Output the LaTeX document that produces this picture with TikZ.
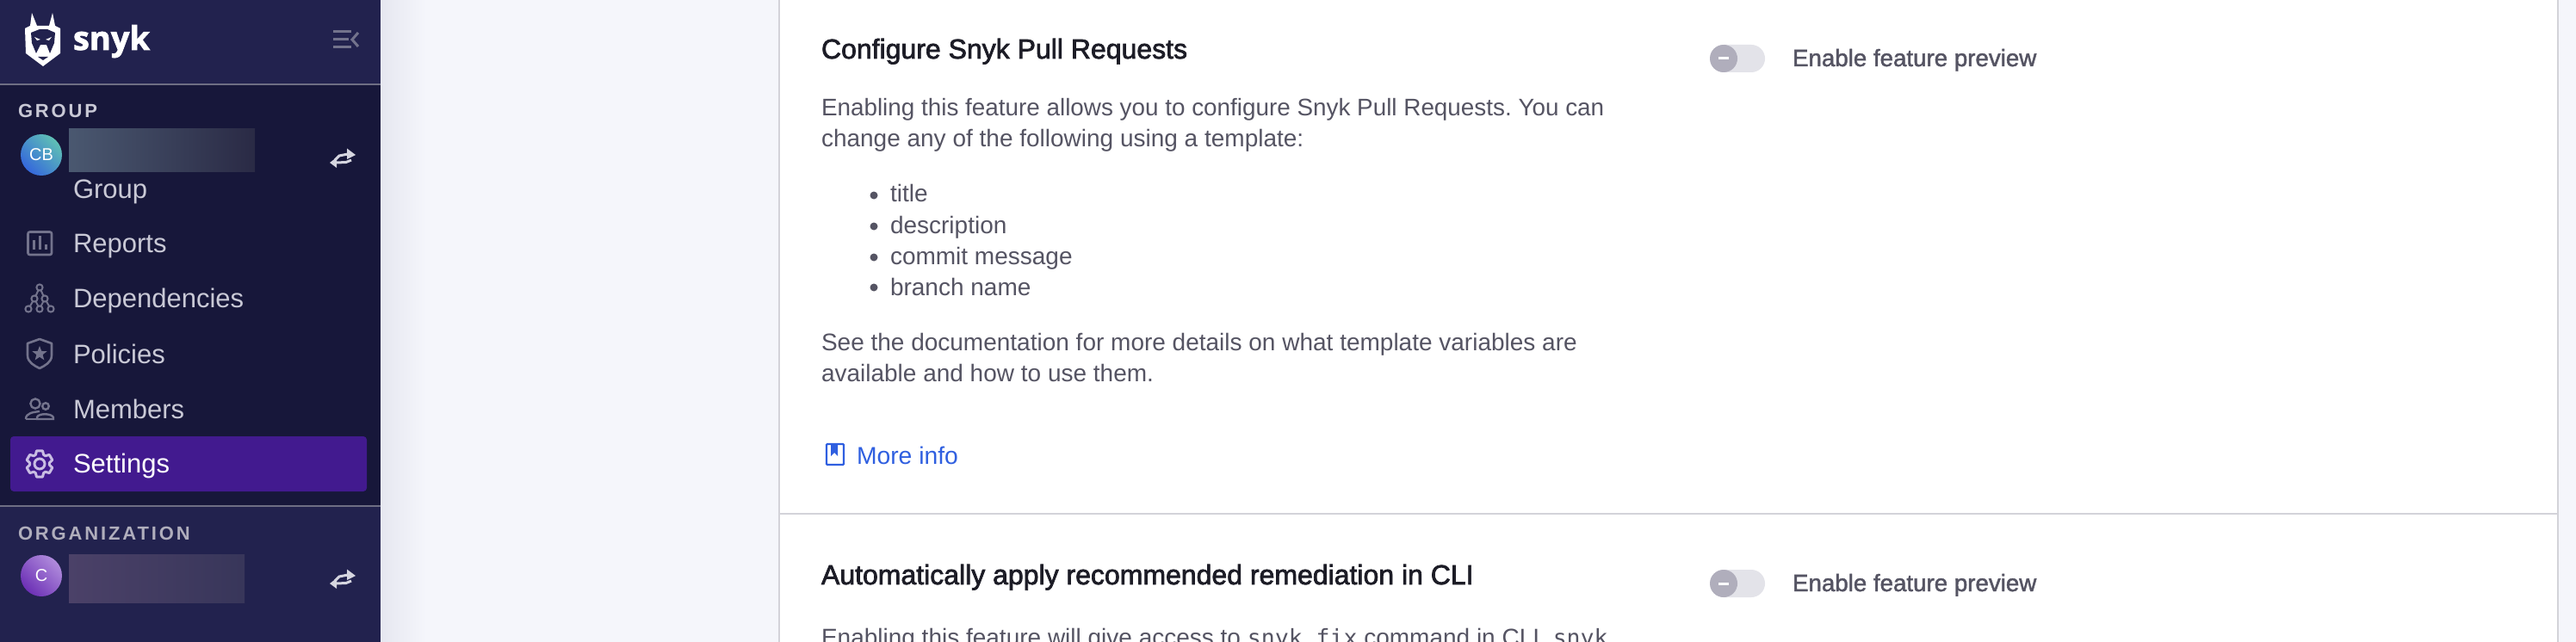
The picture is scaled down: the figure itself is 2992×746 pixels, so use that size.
\documentclass[tikz,border=0pt]{standalone}
\usepackage{fontspec}
\setmainfont{Liberation Sans}
\setmonofont{DejaVu Sans Mono}
\newfontfamily\medfont[FakeBold=2.2]{Liberation Sans}
\newfontfamily\labelfont[FakeBold=1.6]{Liberation Sans}
\newfontfamily\capsfont[LetterSpace=13]{Liberation Sans}
\newfontfamily\logofont[FakeBold=2]{Open Sans}
\definecolor{navytop}{HTML}{22224E}
\definecolor{navymid}{HTML}{17173A}
\definecolor{navyrule}{HTML}{6E6E83}
\definecolor{pagebg}{HTML}{F5F6FB}
\definecolor{stripbg}{HTML}{E6E7F0}
\definecolor{cardline}{HTML}{D3D3D9}
\definecolor{bodytext}{HTML}{555463}
\definecolor{headtext}{HTML}{1C1C26}
\definecolor{linkblue}{HTML}{2F5FE0}
\definecolor{navtext}{HTML}{C9C9D6}
\definecolor{navicon}{HTML}{73738C}
\definecolor{activebg}{HTML}{421A8F}
\definecolor{geartint}{HTML}{C9BDE3}
\definecolor{swapgrey}{HTML}{D6D6E0}
\definecolor{knobgrey}{HTML}{B0AEBC}
\definecolor{trackgrey}{HTML}{E3E3E9}
\definecolor{blurgroupa}{HTML}{4A5870}
\definecolor{blurgroupm}{HTML}{403F54}
\definecolor{blurgroupb}{HTML}{2A2A45}
\definecolor{blurorga}{HTML}{4B4168}
\definecolor{blurorgm}{HTML}{454263}
\definecolor{blurorgb}{HTML}{38365A}
\definecolor{cbstart}{HTML}{5FC0B5}
\definecolor{cbend}{HTML}{3568DC}
\definecolor{cstart}{HTML}{B08BDC}
\definecolor{cend}{HTML}{6C30B5}
\begin{document}
\frenchspacing
\begin{tikzpicture}[
    x=1pt, y=-1pt,
    every node/.style={inner sep=0pt, outer sep=0pt, anchor=base west},
    bodyline/.style={text=bodytext, font=\fontsize{28}{36}\selectfont},
    heading/.style={text=headtext, font=\medfont\fontsize{32}{36}\selectfont},
    navitem/.style={text=navtext, font=\fontsize{31}{36}\selectfont},
    sectionhead/.style={font=\capsfont\bfseries\fontsize{22}{26}\selectfont},
    iconline/.style={draw=navicon, line width=2.6pt, line join=round},
    swapline/.style={draw=swapgrey, line width=3pt},
    previewlabel/.style={text=bodytext, font=\labelfont\fontsize{27.7}{36}\selectfont},
    bullet/.style={circle, fill=bodytext, minimum size=9pt, anchor=center}
]
  \clip (0,0) rectangle (2992,746);
  % Page and card
  \fill[pagebg] (0,0) rectangle (2992,746);
  \shade[left color=stripbg, right color=pagebg] (442,0) rectangle (495,746);
  \fill[white] (906,-5) rectangle (2970,755);
  \draw[cardline, line width=2pt] (905,-5) -- (905,755);
  \draw[cardline, line width=2pt] (2971,-5) -- (2971,755);
  \draw[cardline, line width=2pt] (905,597) -- (2971,597);

  % Sidebar
  \fill[navytop] (0,0) rectangle (442,98);
  \fill[navymid] (0,98) rectangle (442,587);
  \fill[navytop] (0,587) rectangle (442,746);
  \draw[navyrule, line width=2pt] (0,98.5) -- (442,98.5);
  \draw[navyrule, line width=2pt] (0,587.5) -- (442,587.5);

  % Logo
  \fill[white] (37,15) -- (43,30) -- (57,30) -- (61,15) -- (64,30) -- (70,33) -- (70,62)
    -- (50,77) -- (30,62) -- (29,33) -- (35,30) -- cycle;
  \fill[navytop] (36,38) -- (46,34) -- (55,34) -- (64,38) -- (63,50) -- (58,62) -- (54,52)
    -- (47,52) -- (42,62) -- (37,50) -- cycle;
  \fill[white] (40,43) -- (47,46) -- (43,47) -- cycle;
  \fill[white] (60,43) -- (53,46) -- (57,47) -- cycle;
  \fill[navytop] (44,66) -- (56,66) -- (50,70) -- cycle;
  \node (logotext) at (85,58) [text=white, font=\logofont\bfseries\fontsize{38}{40}\selectfont] {snyk};

  % Collapse control
  \draw[navicon, line width=3pt] (387,37) -- (408,37) (387,46) -- (405,46) (387,55) -- (408,55);
  \draw[navicon, line width=3pt] (416,38) -- (409,46) -- (416,54);

  % Group block
  \node (grouphead) at (21,137) [sectionhead, text=navtext] {GROUP};
  \shade[left color=blurgroupa, middle color=blurgroupm, right color=blurgroupb] (80,150) rectangle (296,200);
  \shade[left color=cbstart, right color=cbend, shading angle=-45] (48,180) circle (24);
  \node (groupbadge) at (48,180) [anchor=center, text=white, font=\fontsize{20}{20}\selectfont] {CB};
  \node (groupname) at (85,230) [navitem] {Group};

  % Navigation
  \fill[activebg, rounded corners=4pt] (12,507) rectangle (426,571);
  \node (reports) at (85,293) [navitem] {Reports};
  \node (dependencies) at (85,357) [navitem] {Dependencies};
  \node (policies) at (85,422) [navitem] {Policies};
  \node (members) at (85,486) [navitem] {Members};
  \node (settings) at (85,549) [navitem, text=white] {Settings};

  % Nav icons
  \draw[iconline, rounded corners=2pt] (32.5,269.5) rectangle (60,296);
  \foreach \xbar/\ybar in {39/279, 46/274, 53/284}
    \draw[navicon, line width=3pt] (\xbar,\ybar) -- (\xbar,290);
  \foreach \xa/\ya/\xb/\yb in {46/334/40/347, 46/334/52/347, 40/347/33/359, 40/347/46/359, 52/347/46/359, 52/347/59/359}
    \draw[navicon, line width=2pt] (\xa,\ya) -- (\xb,\yb);
  \foreach \xdot/\ydot in {46/334, 40/347, 52/347, 33/359, 46/359, 59/359}
    \draw[navicon, line width=2pt, fill=navymid] (\xdot,\ydot) circle (3.6);
  \draw[iconline] (46,394) -- (60,399) -- (60,413) .. controls (60,421) and (52,425) .. (46,428)
    .. controls (40,425) and (32,421) .. (32,413) -- (32,399) -- cycle;
  \fill[navicon, shift={(46,411)}] (-90:9) \foreach \ang in {-18,54,126,198,270}{ -- (\ang-36:3.8) -- (\ang:9)} -- cycle;
  \draw[navicon, line width=2.4pt] (41,469) circle (5.6) (53,472) circle (3.8);
  \draw[navicon, line width=2.4pt] (30,487) .. controls (30,480) and (38,479) .. (46,478);
  \draw[navicon, line width=2.4pt] (30,487) -- (43,487);
  \draw[navicon, line width=2.4pt] (43,485) .. controls (44,480) and (60,480) .. (62,485) -- (62,487) -- (43,487) -- cycle;
  \draw[geartint, line width=3pt, line join=round, shift={(46,539)}] (66:11.5)
    \foreach \ang in {90,150,210,270,330,390}{ -- (\ang-13:15.5) -- (\ang+13:15.5) -- (\ang+24:11.5) -- (\ang+36:11.5)} -- cycle;
  \draw[geartint, line width=3pt] (46,539) circle (6);

  % Organization block
  \node (orghead) at (21,627) [sectionhead, text=knobgrey] {ORGANIZATION};
  \shade[left color=blurorga, middle color=blurorgm, right color=blurorgb] (80,644) rectangle (284,700);
  \shade[left color=cstart, right color=cend, shading angle=-45] (48,669) circle (24);
  \node (orgbadge) at (48,669) [anchor=center, text=white, font=\fontsize{20}{20}\selectfont] {C};

  % Swap arrows
  \foreach \yswap in {180,669} {
    \draw[swapline] (389,\yswap+6) -- (394,\yswap+1) -- (404,\yswap-1);
    \fill[swapgrey] (403,\yswap-7.5) -- (413,\yswap) -- (403,\yswap+5) -- cycle;
    \draw[swapline] (391,\yswap+9) -- (402,\yswap+8.5) -- (408,\yswap+6);
    \fill[swapgrey] (391,\yswap+3) -- (383,\yswap+9) -- (391,\yswap+15) -- cycle;
  }

  % First feature
  \node (firsttitle) at (954,68) [heading] {Configure Snyk Pull Requests};
  \node (firstline) at (954,135) [bodyline, font=\fontsize{27.85}{36}\selectfont] {Enabling this feature allows you to configure Snyk Pull Requests. You can};
  \node (secondline) at (954,171) [bodyline] {change any of the following using a template:};
  \node (itemtitle) at (1034,234) [bodyline] {title};
  \node (itemdesc) at (1034,271) [bodyline] {description};
  \node (itemcommit) at (1034,307) [bodyline] {commit message};
  \node (itembranch) at (1034,343) [bodyline] {branch name};
  \foreach \ybullet in {227,263,299,334}
    \node[bullet] at (1015,\ybullet) {};
  \node (docsline) at (954,407) [bodyline] {See the documentation for more details on what template variables are};
  \node (availline) at (954,443) [bodyline] {available and how to use them.};
  \draw[linkblue, line width=2.2pt, rounded corners=1pt] (960,516) rectangle (980,540);
  \fill[linkblue] (965,516) -- (973,516) -- (973,530) -- (969,526) -- (965,530) -- cycle;
  \node (moreinfo) at (995,539) [text=linkblue, font=\fontsize{28.3}{36}\selectfont] {More info};

  % Second feature
  \node (nexttitle) at (954,679) [heading] {Automatically apply recommended remediation in CLI};
  \node (nextline) at (954,750) [bodyline] {Enabling this feature will give access to {\fontsize{26.5}{36}\selectfont\ttfamily snyk fix} command in CLI. {\fontsize{26.5}{36}\selectfont\ttfamily snyk}};

  % Toggles
  \foreach \ytoggle/\nm in {68/first, 678/next} {
    \fill[trackgrey, rounded corners=16pt] (1986,\ytoggle-16) rectangle (2050,\ytoggle+16);
    \fill[knobgrey] (2002,\ytoggle) circle (16);
    \draw[white, line width=3pt] (1996,\ytoggle) -- (2008,\ytoggle);
    \node (\nm preview) at (2082,\ytoggle+9) [previewlabel] {Enable feature preview};
  }
\end{tikzpicture}
\end{document}
